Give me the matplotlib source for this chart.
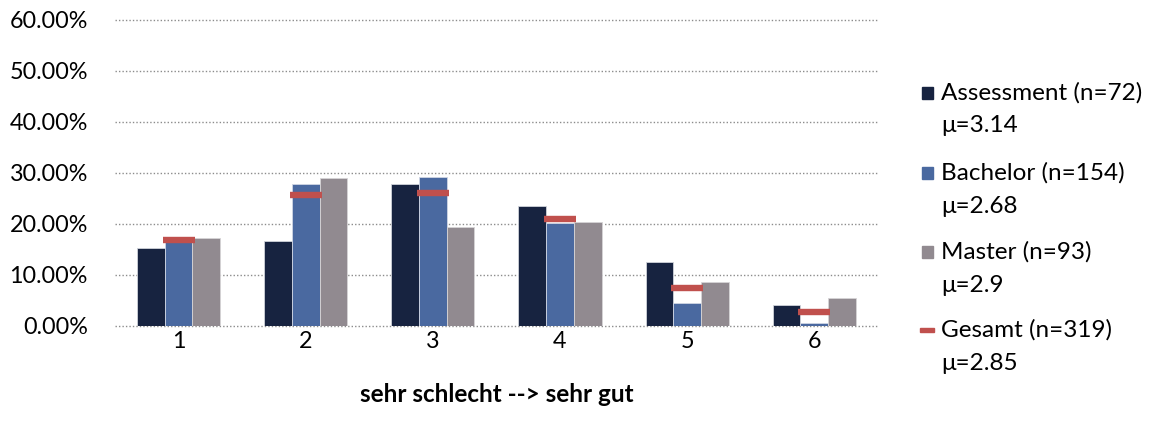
import numpy as np
import matplotlib
matplotlib.use("Agg")
import matplotlib.pyplot as plt
from matplotlib.ticker import FuncFormatter
from matplotlib.patches import Rectangle

# --- data (percent of respondents per rating) ---
categories = ["1", "2", "3", "4", "5", "6"]
assessment = [15.28, 16.67, 27.78, 23.61, 12.50, 4.17]
bachelor = [17.53, 27.92, 29.22, 20.13, 4.55, 0.65]
master = [17.20, 29.03, 19.35, 20.43, 8.60, 5.38]
gesamt = [16.93, 25.71, 26.02, 21.00, 7.52, 2.82]

series_names = ["Assessment (n=72)", "Bachelor (n=154)", "Master (n=93)", "Gesamt (n=319)"]
series_means = ["μ=3.14", "μ=2.68", "μ=2.9", "μ=2.85"]
y_ticks = [0, 10, 20, 30, 40, 50, 60]

col_ass = "#172340"
col_bach = "#4A69A0"
col_mast = "#918A90"
col_ges = "#C0504D"

plt.rcParams['font.family'] = ['Lato', 'DejaVu Sans']

W, H = 1152, 434
fig = plt.figure(figsize=(W / 100, H / 100), dpi=100)
ax = fig.add_axes([0.0998, 0.249, 0.6622, 0.705])

x = np.arange(1, len(categories) + 1)
w = 0.218

ax.bar(x - w, assessment, w, color=col_ass, edgecolor="#d0d3da", linewidth=0.6, zorder=2)
ax.bar(x, bachelor, w, color=col_bach, edgecolor="#d0d6e4", linewidth=0.6, zorder=2)
ax.bar(x + w, master, w, color=col_mast, edgecolor="#d6d4d6", linewidth=0.6, zorder=2)
ax.hlines(gesamt, x - 0.126, x + 0.126, colors=col_ges, linewidth=4.6, zorder=3)

ax.set_xlim(0.5, 6.5)
ax.set_ylim(0, 60)
ax.set_yticks(y_ticks)
ax.yaxis.set_major_formatter(FuncFormatter(lambda v, p: f"{v:.2f}%"))
ax.set_xticks(x)
ax.set_xticklabels(categories)
ax.grid(axis="y", color="#8c8c8c", linestyle=(0, (1, 1.5)), linewidth=1.0, zorder=0)
for gl in ax.get_ygridlines():
    gl.set_clip_on(False)
for s in ax.spines.values():
    s.set_visible(False)
ax.tick_params(axis="both", length=0, labelsize=16.8, colors="black")
ax.tick_params(axis="y", pad=19.5)
ax.tick_params(axis="x", pad=4)
ax.set_xlabel("sehr schlecht --> sehr gut", fontsize=17.5, fontweight="bold", labelpad=22)

# --- legend drawn by hand so the key sits on the first text line ---
colors = [col_ass, col_bach, col_mast, col_ges]
row_y = [93, 173, 252, 330]
for i, (name, mean) in enumerate(zip(series_names, series_means)):
    yc = row_y[i]
    if i < 3:
        fig.patches.append(Rectangle((922 / W, 1 - (yc + 6) / H), 11 / W, 12 / H,
                                     transform=fig.transFigure, color=colors[i]))
    else:
        fig.patches.append(Rectangle((920 / W, 1 - (yc + 1.6) / H), 14 / W, 3.2 / H,
                                     transform=fig.transFigure, color=colors[i]))
    fig.text(941 / W, 1 - yc / H, name, fontsize=17.5, va="center", ha="left")
    fig.text(941 / W, 1 - (yc + 33) / H, mean, fontsize=17.5, va="center", ha="left")

fig.savefig("out.png", dpi=100)
